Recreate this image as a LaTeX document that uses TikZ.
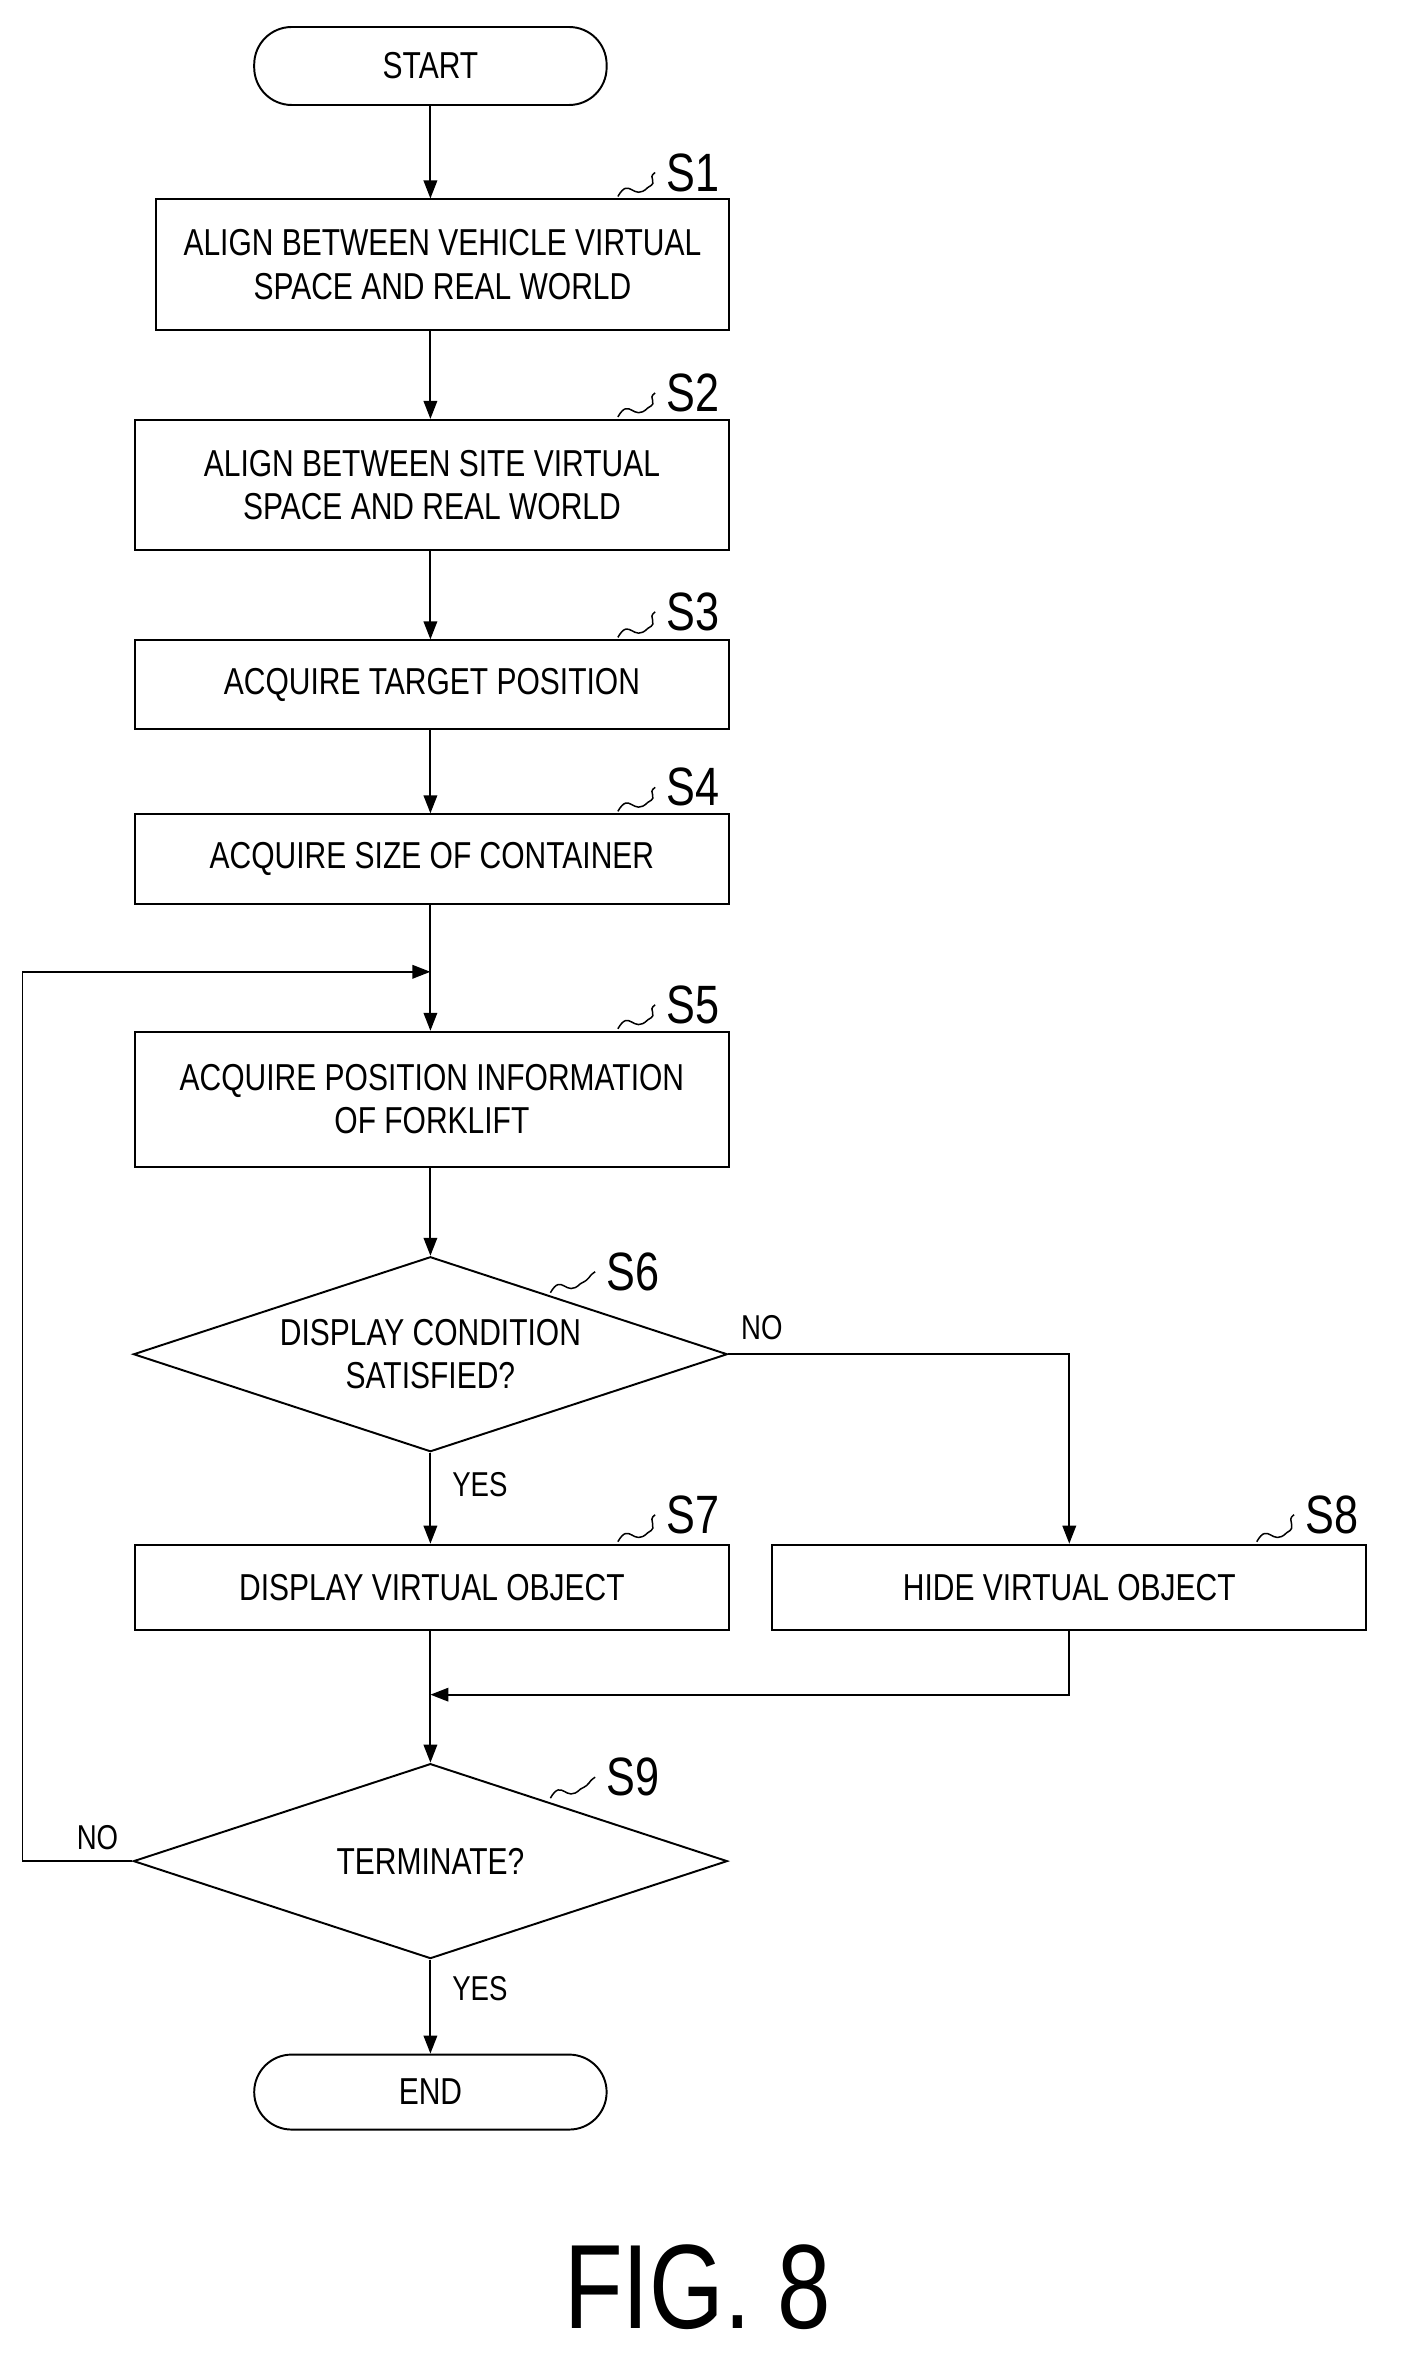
\documentclass[tikz,border=0pt]{standalone}
\usepackage{fontspec}
\setmainfont{Liberation Sans}[FakeStretch=0.8]
\usetikzlibrary{shapes.geometric,arrows.meta}
\begin{document}
\begin{tikzpicture}[x=1pt,y=-1pt,
  every node/.style={font=\fontsize{25}{29}\selectfont, align=center},
  box/.style={draw,line width=1.3pt,inner sep=0pt},
  term/.style={draw,line width=1.3pt,rounded corners=25pt,minimum width=235pt,minimum height=52pt},
  dia/.style={draw,line width=1.3pt,diamond,aspect=3.03,inner sep=0pt,minimum width=396pt,minimum height=130pt},
  sl/.style={font=\fontsize{36}{40}\selectfont},
  lbl/.style={font=\fontsize{23}{26}\selectfont},
  ln/.style={line width=1.3pt},
  ar/.style={ln,-{Triangle[length=12pt,width=9pt]}},
  ld/.style={line width=1pt}]
\useasboundingbox (0,0) rectangle (937,1583);
\node[term] (start) at (287,44) {START};
\node[box,minimum width=382pt,minimum height=87pt] (s1) at (295,176.5) {ALIGN BETWEEN VEHICLE VIRTUAL\\SPACE AND REAL WORLD};
\node[box,minimum width=396pt,minimum height=87pt] (s2) at (288,323.5) {ALIGN BETWEEN SITE VIRTUAL\\SPACE AND REAL WORLD};
\node[box,minimum width=396pt,minimum height=59pt] (s3) at (288,456.5) {ACQUIRE TARGET POSITION};
\node[box,minimum width=396pt,minimum height=60pt] (s4) at (288,573) {ACQUIRE SIZE OF CONTAINER};
\node[box,minimum width=396pt,minimum height=90pt] (s5) at (288,733) {ACQUIRE POSITION INFORMATION\\OF FORKLIFT};
\node[dia] (s6) at (287,903) {DISPLAY CONDITION\\SATISFIED?};
\node[box,minimum width=396pt,minimum height=57pt] (s7) at (288,1058.5) {DISPLAY VIRTUAL OBJECT};
\node[box,minimum width=396pt,minimum height=57pt] (s8) at (713,1058.5) {HIDE VIRTUAL OBJECT};
\node[dia] (s9) at (287,1241) {TERMINATE?};
\node[term,minimum height=50pt] (end) at (287,1395) {END};
\node[font=\fontsize{80}{90}\selectfont] (fig) at (465,1525) {FIG. 8};

\coordinate (j1) at (287,648);
\coordinate (j2) at (287,1130);
\coordinate (lc) at (15,648);
\coordinate (lb) at (15,1241);

\draw[ar] (start) -- (s1.north -| start);
\draw[ar] (s1.south -| start) -- (s2.north -| start);
\draw[ar] (s2.south -| start) -- (s3.north -| start);
\draw[ar] (s3.south -| start) -- (s4.north -| start);
\draw[ar] (s4.south -| start) -- (s5.north -| start);
\draw[ar] (s5.south -| start) -- (s6.north);
\draw[ar] (s6.south) -- (s7.north -| start);
\draw[ar] (s6.east) -| (s8.north);
\draw[ar] (s7.south -| start) -- (s9.north);
\draw[ar] (s8.south) |- (j2);
\draw[ar] (s9.south) -- (end);
\draw[ar] (s9.west) -- (lb) -- (lc) -- (j1);

\node[lbl] at (508,885) {NO};
\node[lbl] at (320,990) {YES};
\node[lbl] at (65,1225) {NO};
\node[lbl] at (320,1326) {YES};

\foreach \n/\x/\y/\bx/\by in {S1/462/115/412/131, S2/462/262/412/278, S3/462/408/412/425, S4/462/525/412/541, S5/462/670/412/686, S7/462/1010/412/1028, S8/888/1010/838/1028, S6/422/848/367/862, S9/422/1185/367/1199}{
  \node[sl] (l\n) at (\x,\y) {\n};
  \coordinate (b\n) at (\bx,\by);
  \draw[ld] (b\n) .. controls ++(8,-14) and ++(-10,10) .. ++(20,-6) .. controls ++(8,-4) and ++(-6,4) .. ([xshift=-4pt]l\n.west);
}
\end{tikzpicture}
\end{document}
